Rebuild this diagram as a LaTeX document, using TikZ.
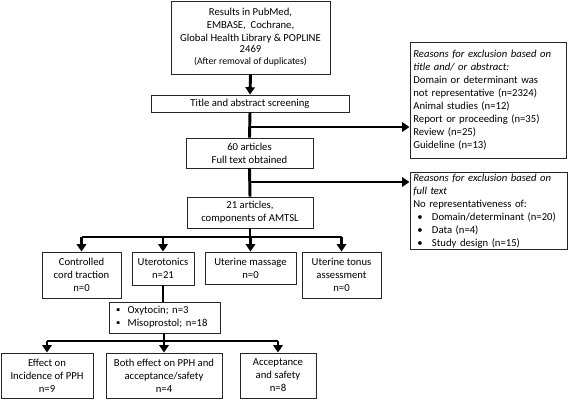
\documentclass[tikz,border=0pt]{standalone}
\usepackage{fontspec}
\setmainfont{Carlito}
\usetikzlibrary{arrows.meta}
\begin{document}
\begin{tikzpicture}[x=0.75pt,y=-0.75pt,
  box/.style={draw=black!85, line width=0.7pt, align=center, inner sep=1pt,
    font=\fontsize{8}{9.7}\selectfont},
  lbox/.style={box, align=left, inner xsep=2.5pt},
  conn/.style={line width=2.2pt},
  arr/.style={conn, -{Triangle[width=7pt,length=5.5pt]}},
]
\useasboundingbox (0,0) rectangle (568,400);
% boxes
\node[box, minimum width=119.25pt, minimum height=54.75pt] (top) at (250.5,37.5)
  {Results in PubMed,\\ EMBASE,\ \ Cochrane,\\ Global Health Library \& POPLINE\\[-2pt] 2469\\ {\fontsize{7.3}{9}\selectfont (After removal of duplicates)}};
\node[box, minimum width=148.5pt, minimum height=12.75pt] (title) at (250,103.5) {Title and abstract screening};
\node[lbox, text width=112pt, minimum height=87pt] (excl1) at (488,100)
  {\textit{Reasons for exclusion based on}\\ \textit{title and/ or abstract:}\\ Domain or determinant was\\ not representative (n=2324)\\ Animal studies (n=12)\\ Report or proceeding (n=35)\\ Review (n=25)\\ Guideline (n=13)};
\node[box, minimum width=95.25pt, minimum height=22.5pt] (b60) at (249.5,153) {60 articles\\ Full text obtained};
\node[lbox, text width=112.75pt, minimum height=54pt] (excl2) at (488.5,211)
  {\textit{Reasons for exclusion based on}\\ \textit{full text}\\ No representativeness of:\\
   \hspace*{3pt}\makebox[11pt][l]{•}Domain/determinant (n=20)\\
   \hspace*{3pt}\makebox[11pt][l]{•}Data (n=4)\\
   \hspace*{3pt}\makebox[11pt][l]{•}Study design (n=15)};
\node[box, minimum width=94.5pt, minimum height=23.25pt] (b21) at (250,212.5) {21 articles,\\ components of AMTSL};
\node[box, minimum width=59.25pt, minimum height=34.5pt] (ctrl) at (81.5,275) {Controlled\\ cord traction\\ n=0};
\node[box, minimum width=46.5pt, minimum height=24.75pt] (utero) at (163,268.5) {Uterotonics\\ n=21};
\node[box, minimum width=68.25pt, minimum height=24pt] (mass) at (250.5,268) {Uterine massage\\ n=0};
\node[box, minimum width=59.25pt, minimum height=34.5pt] (tonus) at (341.5,275) {Uterine tonus\\ assessment\\ n=0};
\node[lbox, text width=78.25pt, minimum height=23.25pt] (oxy) at (164.5,317.5)
  {\hspace*{3pt}\makebox[8.5pt][l]{▪}Oxytocin; n=3\\ \hspace*{3pt}\makebox[8.5pt][l]{▪}Misoprostol; n=18};
\node[box, minimum width=69pt, minimum height=33.75pt] (eff) at (47,375.5) {Effect on\\ Incidence of PPH\\ n=9};
\node[box, minimum width=87pt, minimum height=33.75pt] (both) at (164,375.5) {Both effect on PPH and\\ acceptance/safety\\ n=4};
\node[box, minimum width=57pt, minimum height=33.75pt] (acc) at (278,375.5) {Acceptance\\ and safety\\ n=8};
% connectors
\draw[arr] (top.south) -- (title.north);
\draw[conn] (title.south) -- (b60.north);
\coordinate (j1) at (250,127);
\draw[arr] (j1) -- (j1 -| excl1.west);
\draw[conn] (b60.south) -- (b21.north);
\coordinate (j2) at (250,182);
\draw[arr] (j2) -- (j2 -| excl2.west);
\coordinate (bus1) at (250,237);
\draw[conn] (b21.south) -- (bus1);
\draw[conn] (ctrl.north |- bus1) -- (tonus.north |- bus1);
\foreach \n in {ctrl,utero,mass,tonus} \draw[arr] (\n.north |- bus1) -- (\n.north);
\draw[conn] (utero.south) -- (utero.south |- oxy.north);
\coordinate (bus2) at (164,341);
\draw[conn] (oxy.south -| bus2) -- (bus2);
\draw[conn] (eff.north |- bus2) -- (acc.north |- bus2);
\foreach \n in {eff,both,acc} \draw[arr] (\n.north |- bus2) -- (\n.north);
\end{tikzpicture}
\end{document}
